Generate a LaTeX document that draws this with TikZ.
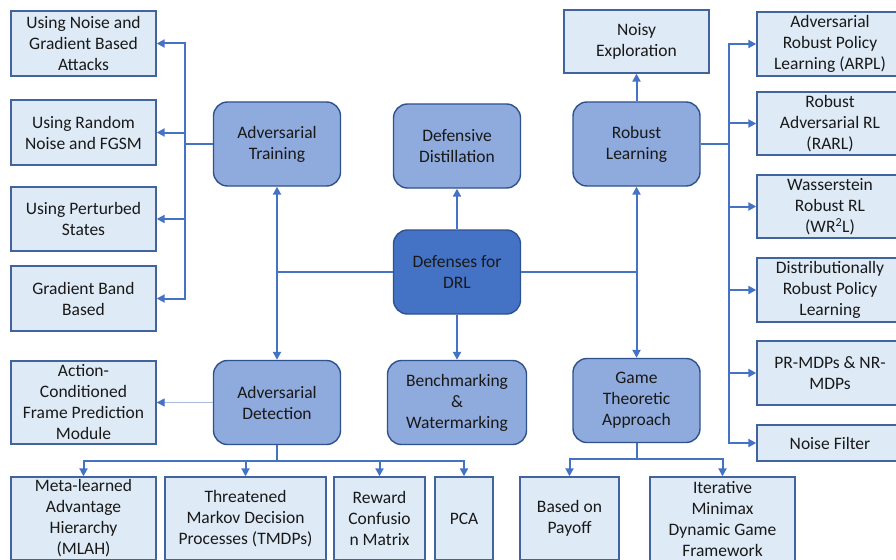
\documentclass[tikz,border=0pt]{standalone}
\usepackage{fontspec}
\setmainfont{Carlito}
\usetikzlibrary{arrows.meta}
\definecolor{leaffill}{HTML}{DEEBF7}
\definecolor{leafdraw}{HTML}{41649E}
\definecolor{topicfill}{HTML}{8FAADC}
\definecolor{topicdraw}{HTML}{2F528F}
\definecolor{rootfill}{HTML}{4472C4}
\definecolor{linkcol}{HTML}{4472C4}
\definecolor{faintlink}{HTML}{A9BBDB}

\begin{document}
\begin{tikzpicture}[x=1pt, y=-1pt,
    every node/.style={font=\fontsize{17.5}{21}\selectfont, align=center, inner sep=0pt, text=black!90},
    leaf/.style={draw=leafdraw, fill=leaffill, line width=1.4pt},
    topic/.style={draw=topicdraw, fill=topicfill, line width=1.4pt, rounded corners=14pt, minimum width=127pt, minimum height=84pt},
    root/.style={topic, fill=rootfill},
    link/.style={draw=linkcol, line width=2pt},
    arr/.style={link, -{Triangle[length=8pt,width=8pt]}},
    darr/.style={link, {Triangle[length=8pt,width=8pt]}-{Triangle[length=8pt,width=8pt]}}]
  \clip (0,0) rectangle (896,559);
  \fill[white] (0,0) rectangle (896,559);

  % centre and the six branches
  \node[root] (drl) at (457,272) {Defenses for\\DRL};
  \node[topic] (at) at (277,144) {Adversarial\\Training};
  \node[topic] (dd) at (457,146) {Defensive\\Distillation};
  \node[topic] (rl) at (636.5,144) {Robust\\Learning};
  \node[topic] (ad) at (277,402.5) {Adversarial\\Detection};
  \node[topic, minimum width=139pt] (bw) at (457,402.5) {Benchmarking\\\&\\Watermarking};
  \node[topic] (gt) at (636.5,400.5) {Game\\Theoretic\\Approach};

  % adversarial training
  \node[leaf, minimum width=145pt, minimum height=65pt] (ln1) at (83.5,43.5) {Using Noise and\\Gradient Based\\Attacks};
  \node[leaf, minimum width=145pt, minimum height=65pt] (ln2) at (83.5,132.5) {Using Random\\Noise and FGSM};
  \node[leaf, minimum width=145pt, minimum height=64pt] (ln3) at (83.5,219) {Using Perturbed\\States};
  \node[leaf, minimum width=145pt, minimum height=65pt] (ln4) at (83.5,298.5) {Gradient Band\\Based};

  % robust learning
  \node[leaf, minimum width=145pt, minimum height=63pt] (ne) at (636.5,41.5) {Noisy\\Exploration};
  \node[leaf, minimum width=146pt, minimum height=64pt] (rn1) at (830,44) {Adversarial\\Robust Policy\\Learning (ARPL)};
  \node[leaf, minimum width=146pt, minimum height=63pt] (rn2) at (830,123.5) {Robust\\Adversarial RL\\(RARL)};
  \node[leaf, minimum width=146pt, minimum height=63pt] (rn3) at (830,206.5) {Wasserstein\\Robust RL\\(WR\textsuperscript{2}L)};
  \node[leaf, minimum width=146pt, minimum height=64pt] (rn4) at (830,290) {Distributionally\\Robust Policy\\Learning};
  \node[leaf, minimum width=146pt, minimum height=64pt] (rn5) at (830,373) {PR-MDPs \& NR-\\MDPs};
  \node[leaf, minimum width=146pt, minimum height=36pt] (rn6) at (830,443) {Noise Filter};

  % adversarial detection
  \node[leaf, minimum width=145pt, minimum height=83pt] (ac) at (83.5,402.5) {Action-\\Conditioned\\Frame Prediction\\Module};
  \node[leaf, minimum width=145pt, minimum height=83pt] (dn1) at (83.5,518.5) {Meta-learned\\Advantage\\Hierarchy\\(MLAH)};
  \node[leaf, minimum width=161pt, minimum height=83pt] (dn2) at (245.5,518.5) {Threatened\\Markov Decision\\Processes (TMDPs)};
  \node[leaf, minimum width=91pt, minimum height=83pt] (dn3) at (379.5,518.5) {Reward\\Confusio\\n Matrix};
  \node[leaf, minimum width=58pt, minimum height=83pt] (dn4) at (464,518.5) {PCA};

  % game theory
  \node[leaf, minimum width=99pt, minimum height=83pt] (gn1) at (569.5,518.5) {Based on\\Payoff};
  \node[leaf, minimum width=145pt, minimum height=85pt] (gn2) at (722.5,519.5) {Iterative\\Minimax\\Dynamic Game\\Framework};

  % bus points
  \coordinate (lbus) at (185,144);
  \coordinate (rbus) at (729,144);
  \coordinate (dbus) at (277,461);
  \coordinate (gbus) at (636.5,459);

  % links from the centre
  \draw[link] (drl.west) -- (drl.west -| at.south);
  \draw[link] (drl.east) -- (drl.east -| rl.south);
  \draw[darr] (at.south) -- (ad.north);
  \draw[darr] (rl.south) -- (gt.north);
  \draw[arr] (drl.north) -- (dd.south);
  \draw[arr] (drl.south) -- (bw.north);

  % links to the leaves
  \foreach \n in {ln1,ln2,ln3,ln4}
    \draw[arr] (at.west) -- (lbus) |- (\n.east);
  \draw[arr] (rl.north) -- (ne.south);
  \foreach \n in {rn1,rn2,rn3,rn4,rn5,rn6}
    \draw[arr] (rl.east) -- (rbus) |- (\n.west);
  \draw[draw=faintlink, line width=1.2pt, -{Triangle[length=8pt,width=8pt,color=linkcol]}] (ad.west) -- (ac.east);
  \foreach \n in {dn1,dn2,dn3,dn4}
    \draw[arr] (ad.south) -- (dbus) -| (\n.north);
  \foreach \n in {gn1,gn2}
    \draw[arr] (gt.south) -- (gbus) -| (\n.north);
\end{tikzpicture}
\end{document}
